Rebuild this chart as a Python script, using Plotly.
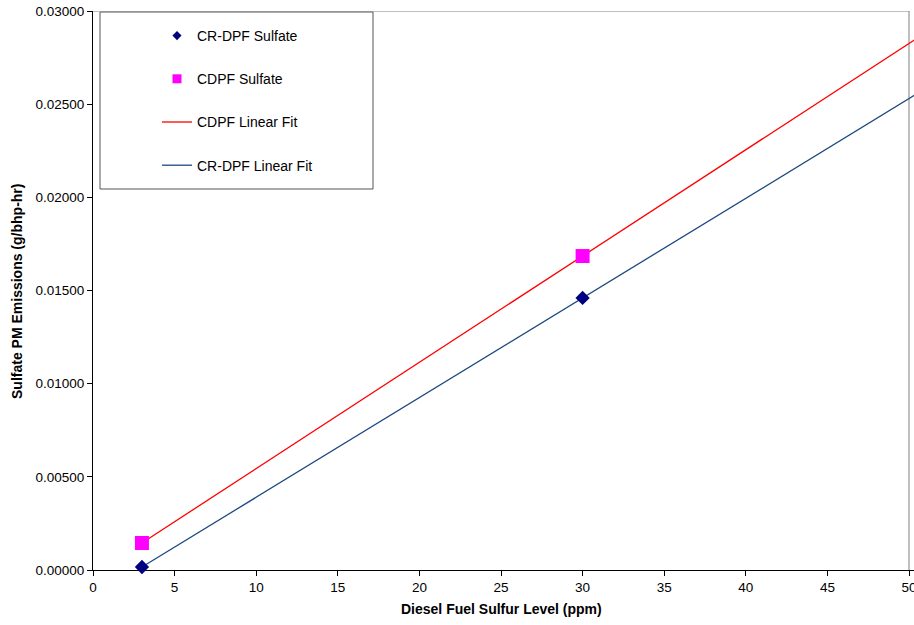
import numpy as np
import plotly.graph_objects as go

# Data
sulfur_ppm = [3, 30]
crdpf_sulfate = [0.00016, 0.0146]
cdpf_sulfate = [0.00145, 0.01685]
fit_x = [3, 55]  # trendline drawn from first point forward past the axis end

x_ticks = [0, 5, 10, 15, 20, 25, 30, 35, 40, 45, 50]
y_ticks = [0.0, 0.005, 0.01, 0.015, 0.02, 0.025, 0.03]

cr_coef = np.polyfit(sulfur_ppm, crdpf_sulfate, 1)
cd_coef = np.polyfit(sulfur_ppm, cdpf_sulfate, 1)
fit_x_arr = np.array(fit_x, dtype=float)

FONT = "Liberation Sans, Arial, sans-serif"
NAVY = "#000080"
MAGENTA = "#FF00FF"
RED = "#FF0000"
BLUE = "#1C4A7E"

W, H = 914, 625
OFF = 0  # body margin removed via post_script
# target viewport positions of the plot area
VL, VT, VB, VR = 93, 11, 570, 914
L = VL - OFF
T = VT - OFF
B = H - (VB - OFF)
R = W - (VR - OFF)
plot_w = VR - VL
plot_h = VB - VT
unit_px = (909 - VL) / 50.0
x_max = plot_w / unit_px

fig = go.Figure()

# fit lines
fig.add_trace(go.Scatter(x=fit_x_arr, y=np.polyval(cd_coef, fit_x_arr), mode="lines",
                         line=dict(color=RED, width=1.3), showlegend=False, hoverinfo="skip"))
fig.add_trace(go.Scatter(x=fit_x_arr, y=np.polyval(cr_coef, fit_x_arr), mode="lines",
                         line=dict(color=BLUE, width=1.3), showlegend=False, hoverinfo="skip"))
# data markers
fig.add_trace(go.Scatter(x=sulfur_ppm, y=cdpf_sulfate, mode="markers",
                         marker=dict(symbol="square", size=14, color=MAGENTA),
                         cliponaxis=False, showlegend=False))
fig.add_trace(go.Scatter(x=sulfur_ppm, y=crdpf_sulfate, mode="markers",
                         marker=dict(symbol="diamond", size=11, color=NAVY),
                         cliponaxis=False, showlegend=False))

# legend entries
fig.add_trace(go.Scatter(x=[None], y=[None], mode="markers", name="CR-DPF Sulfate",
                         marker=dict(symbol="diamond", size=7, color=NAVY), legendgroup="a"))
fig.add_trace(go.Scatter(x=[None], y=[None], mode="markers", name="CDPF Sulfate",
                         marker=dict(symbol="square", size=9, color=MAGENTA), legendgroup="b"))
fig.add_trace(go.Scatter(x=[None], y=[None], mode="lines", name="CDPF Linear Fit",
                         line=dict(color=RED, width=1.3), legendgroup="c"))
fig.add_trace(go.Scatter(x=[None], y=[None], mode="lines", name="CR-DPF Linear Fit",
                         line=dict(color=BLUE, width=1.3), legendgroup="d"))

def px_x(p):
    return (p - VL) / plot_w

def px_y(p):
    return (VB - p) / plot_h

shapes = [
    # plot-area frame (top and right)
    dict(type="line", xref="x", yref="y", x0=0, x1=50, y0=0.03, y1=0.03,
         line=dict(color="#808080", width=1), layer="below"),
    dict(type="line", xref="x", yref="y", x0=50, x1=50, y0=0, y1=0.03,
         line=dict(color="#808080", width=1), layer="below"),
    # legend box
    dict(type="rect", xref="paper", yref="paper", x0=px_x(100), x1=px_x(373),
         y0=px_y(189), y1=px_y(12), line=dict(color="#555555", width=1),
         fillcolor="white", layer="below"),
]

fig.update_layout(
    width=W, height=H,
    margin=dict(l=L, r=R, t=T, b=B, pad=0, autoexpand=False),
    paper_bgcolor="white", plot_bgcolor="rgba(0,0,0,0)",
    font=dict(family=FONT, size=13.5, color="black"),
    showlegend=True,
    legend=dict(x=px_x(157), y=px_y(20), xanchor="left", yanchor="top",
                bgcolor="rgba(0,0,0,0)", borderwidth=0,
                traceorder="grouped", tracegroupgap=22,
                font=dict(family=FONT, size=14, color="black")),
    shapes=shapes,
    xaxis=dict(range=[0, x_max], tickvals=x_ticks, ticktext=[str(v) for v in x_ticks],
               showgrid=False, zeroline=False, showline=True, linecolor="black",
               linewidth=1, ticks="outside", ticklen=5, tickcolor="black",
               ticklabeloverflow="allow", automargin=False,
               layer="below traces", fixedrange=True),
    yaxis=dict(range=[0, 0.03], tickvals=y_ticks, tickformat=".5f",
               showgrid=False, zeroline=False, showline=True, linecolor="black",
               linewidth=1, ticks="outside", ticklen=5, tickcolor="black",
               ticklabeloverflow="allow", automargin=False,
               layer="below traces", fixedrange=True),
    annotations=[
        dict(text="<b>Diesel Fuel Sulfur Level (ppm)</b>", xref="paper", yref="paper",
             x=px_x(501), y=px_y(609), xanchor="center", yanchor="middle",
             showarrow=False, font=dict(family=FONT, size=14)),
        dict(text="<b>Sulfate PM Emissions (g/bhp-hr)</b>", xref="paper", yref="paper",
             x=px_x(17), y=px_y(292), xanchor="center", yanchor="middle", textangle=-90,
             showarrow=False, font=dict(family=FONT, size=14)),
    ],
)

fig.write_html(
    "out.html",
    config={"displayModeBar": False},
    post_script="document.body.style.margin='0';document.body.style.overflow='hidden';",
)
